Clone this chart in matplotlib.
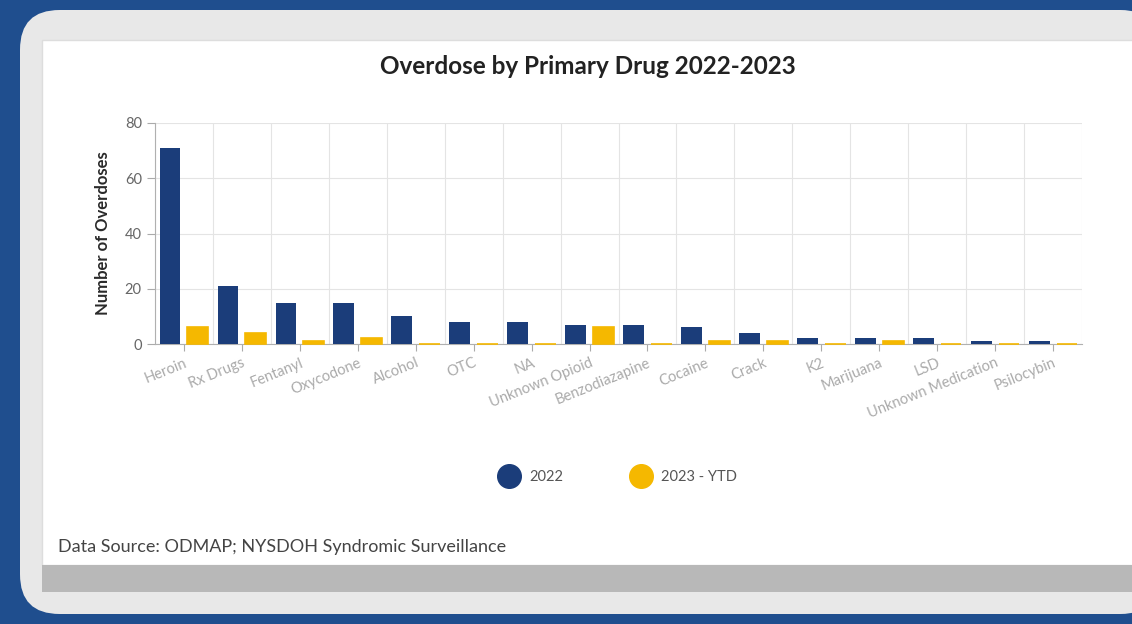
import matplotlib.pyplot as plt
import numpy as np
from matplotlib.lines import Line2D
from matplotlib.patches import FancyBboxPatch, Rectangle

drugs = [
    "Heroin", "Rx Drugs", "Fentanyl", "Oxycodone", "Alcohol", "OTC", "NA",
    "Unknown Opioid", "Benzodiazapine", "Cocaine", "Crack", "K2", "Marijuana",
    "LSD", "Unknown Medication", "Psilocybin",
]
counts_2022 = [71, 21, 15, 15, 10, 8, 8, 7, 7, 6, 4, 2, 2, 2, 1, 1]
counts_2023 = [6, 4, 1, 2, 0, 0, 0, 6, 0, 1, 1, 0, 1, 0, 0, 0]

BLUE = "#1b3d7a"
GOLD = "#f5b800"
W, H = 1132, 624

plt.rcParams["font.family"] = ["Lato", "DejaVu Sans"]

fig = plt.figure(figsize=(W / 100, H / 100), dpi=100)
fig.patch.set_facecolor("#1f4e8e")

# panel background layers (pixel coords -> figure fractions)
def fx(px):
    return px / W

def fy(py):
    return 1 - py / H

fig.patches.append(FancyBboxPatch((fx(20), fy(614)), fx(1160) - fx(20), fy(10) - fy(614),
                                  boxstyle="round,pad=0,rounding_size=0.035",
                                  transform=fig.transFigure, facecolor="#e8e8e8",
                                  edgecolor="none", zorder=-3, mutation_aspect=W / H))
fig.patches.append(Rectangle((fx(42), fy(565)), 1, fy(40) - fy(565),
                             transform=fig.transFigure, facecolor="white",
                             edgecolor="#dddddd", lw=1, zorder=-2))
fig.patches.append(Rectangle((fx(42), fy(592)), 1, fy(565) - fy(592),
                             transform=fig.transFigure, facecolor="#b8b8b8",
                             edgecolor="none", zorder=-2))

ax = fig.add_axes([fx(155), fy(344), fx(1082) - fx(155), fy(123) - fy(344)])
ax.set_facecolor("white")

x = np.arange(len(drugs))
bw = 0.36
ax.bar(x - 0.24, counts_2022, bw, color=BLUE, zorder=3)
ax.bar(x + 0.24, counts_2023, bw, color=GOLD, edgecolor=GOLD, linewidth=1.2, zorder=3,
       clip_on=False)

ax.set_xlim(-0.5, len(drugs) - 0.5)
ax.set_ylim(0, 80)
ax.set_yticks([0, 20, 40, 60, 80])
ax.set_xticks(x)
ax.set_xticklabels(drugs, rotation=22, ha="right", rotation_mode="anchor",
                   color="#8a8a8a", fontsize=10.5)
ax.set_xticks(np.arange(-0.5, len(drugs)), minor=True)
ax.tick_params(axis="x", which="minor", length=0)
ax.grid(True, which="minor", axis="x", color="#e4e4e4", lw=0.8, zorder=0)
ax.grid(True, which="major", axis="y", color="#e4e4e4", lw=0.8, zorder=0)
ax.tick_params(axis="y", colors="#aaaaaa", labelcolor="#666666", labelsize=10.5, length=6)
ax.tick_params(axis="x", colors="#aaaaaa", length=5)

for side in ["top", "right"]:
    ax.spines[side].set_visible(False)
for side in ["left", "bottom"]:
    ax.spines[side].set_color("#b0b0b0")

ax.set_ylabel("Number of Overdoses", fontsize=12, fontweight="bold", color="#2a2a2a", labelpad=10)

fig.text(fx(588), fy(66), "Overdose by Primary Drug 2022-2023", ha="center", va="center",
         fontsize=17.5, fontweight="bold", color="#222222")

handles = [
    Line2D([], [], marker="o", ls="none", markersize=17, color=BLUE, label="2022"),
    Line2D([], [], marker="o", ls="none", markersize=17, color=GOLD, label="2023 - YTD"),
]
fig.legend(handles=handles, loc="center", bbox_to_anchor=(fx(616), fy(477)), ncol=2,
           frameon=False, fontsize=10.5, columnspacing=4.3, handletextpad=0.4,
           labelcolor="#555555")

fig.text(fx(58), fy(547), "Data Source: ODMAP; NYSDOH Syndromic Surveillance", ha="left",
         va="center", fontsize=13, color="#444444")

fig.savefig("out.png", dpi=100, facecolor=fig.get_facecolor())
